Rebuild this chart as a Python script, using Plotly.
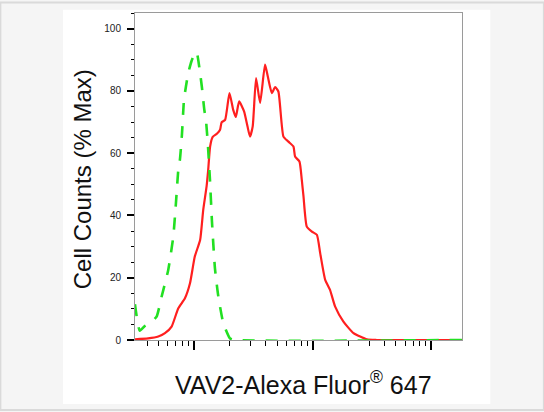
import plotly.graph_objects as go

# Fluorescence intensity (log scale) and % of max cell counts
red_x = [31.6, 40.8, 49.7, 56.6, 64.4, 73.3, 83.4, 92.0, 101, 112, 119, 127, 131, 136, 143,
         155, 165, 170, 182, 198, 213, 224, 239, 263, 281, 295, 311, 332, 359, 395,
         417, 451, 481, 512, 565, 622, 686, 708, 771, 807, 834, 889, 982, 1081, 1153,
         1271, 1396, 1542, 1811, 2203, 2858, 3467, 18110]
red_y = [0.2, 0.5, 1.1, 2.2, 4.3, 10.2, 13.4, 18.2, 26.8, 32.1, 41.8, 49.3, 54.6, 62.1, 65.2,
         66.2, 67.5, 69.9, 70.7, 79.3, 73.9, 71.6, 76.6, 73.4, 68.6, 65.3, 68.6, 84.1, 76.1, 88.4,
         84.6, 79.3, 81.2, 79.8, 65.3, 63.7, 62.1, 58.9, 57.3, 51.4, 46.1, 36.4, 34.8, 33.8, 27.9,
         19.3, 16.1, 10.7, 5.9, 2.2, 0.2, 0, 0]

green_x = [31.6, 34.7, 38.3, 42.3, 48.1, 53.0, 60.3, 66.5, 70.0, 73.3, 75.7, 78.7, 81.8, 85.1, 89.3,
           94.7, 99.4, 104.7, 107.4, 111.7, 116.1, 121.4, 125.5, 130.6, 135.8, 141.0, 149.4, 159.5,
           175.8, 200.4, 220.8, 18110]
green_y = [11.5, 3.0, 4.5, 5.4, 7.5, 13.9, 22.5, 33.2, 43.9, 54.6, 58, 66, 77, 81.5, 86,
           89.5, 91.5, 92.5, 90.5, 86, 81, 74, 70.5, 62, 51, 38, 23, 14,
           5.4, 0.5, 0, 0]

y_tickvals = [0, 20, 40, 60, 80, 100]
y_title = "Cell Counts (% Max)"
x_title = "VAV2-Alexa Fluor<sup>®</sup> 647"

W, H = 544, 412
L, R, T, B = 135, 461.7, 13.3, 340.0
pw, ph = R - L, B - T


def px(x):
    return (x - L) / pw


def py(y):
    return (B - y) / ph


fig = go.Figure()
fig.add_trace(go.Scatter(x=red_x, y=red_y, mode="lines",
                         line=dict(color="#ff1f1f", width=2.2, shape="spline", smoothing=0.5),
                         showlegend=False, hoverinfo="skip"))
fig.add_trace(go.Scatter(x=green_x, y=green_y, mode="lines",
                         line=dict(color="#22e022", width=2.6, dash="12px,11px",
                                   shape="spline", smoothing=0.5),
                         showlegend=False, hoverinfo="skip"))

font = "Liberation Sans, Arial, sans-serif"

fig.update_layout(
    width=W, height=H, autosize=False,
    margin=dict(l=L, r=W - R, t=T, b=H - B, pad=0),
    paper_bgcolor="#f5f5f5",
    plot_bgcolor="#ffffff",
    showlegend=False,
    font=dict(family=font, color="#222"),
    xaxis=dict(
        type="log", range=[1.5, 4.258], dtick=1, showticklabels=False,
        ticks="outside", ticklen=9, tickwidth=2, tickcolor="#000",
        showline=True, linecolor="#9a9a9a", linewidth=1, mirror=True,
        showgrid=False, zeroline=False, layer="below traces",
        minor=dict(dtick="D1", ticks="outside", ticklen=5, tickwidth=1,
                   tickcolor="#000", showgrid=False),
    ),
    yaxis=dict(
        range=[0, 105], tickvals=y_tickvals,
        ticks="outside", ticklen=7, tickwidth=2, tickcolor="#000",
        tickfont=dict(size=10, color="#222", family=font),
        ticklabelstandoff=4,
        showline=True, linecolor="#9a9a9a", linewidth=1, mirror=True,
        showgrid=False, zeroline=False, layer="below traces",
        minor=dict(dtick=5, ticks="outside", ticklen=3.5, tickwidth=1,
                   tickcolor="#000", showgrid=False),
    ),
    shapes=[
        dict(type="rect", xref="paper", yref="paper",
             x0=px(0.5), x1=px(543.5), y0=py(410), y1=py(2.7),
             line=dict(color="#dadada", width=2), fillcolor="#f5f5f5", layer="below"),
        dict(type="rect", xref="paper", yref="paper",
             x0=px(63), x1=px(490), y0=py(404), y1=py(10),
             line=dict(width=0), fillcolor="#ffffff", layer="below"),
    ],
    annotations=[
        dict(text=y_title, xref="paper", yref="paper", x=px(82.5), y=py(179),
             xanchor="center", yanchor="middle", textangle=-90, showarrow=False,
             font=dict(size=24, color="#111", family=font)),
        dict(text=x_title, xref="paper", yref="paper", x=px(303.5), y=py(383),
             xanchor="center", yanchor="middle", showarrow=False,
             font=dict(size=25, color="#111", family=font)),
    ],
)

fig.write_html("out.html", config={"displayModeBar": False},
               post_script="document.body.style.margin='0px';document.body.style.overflow='hidden';")
